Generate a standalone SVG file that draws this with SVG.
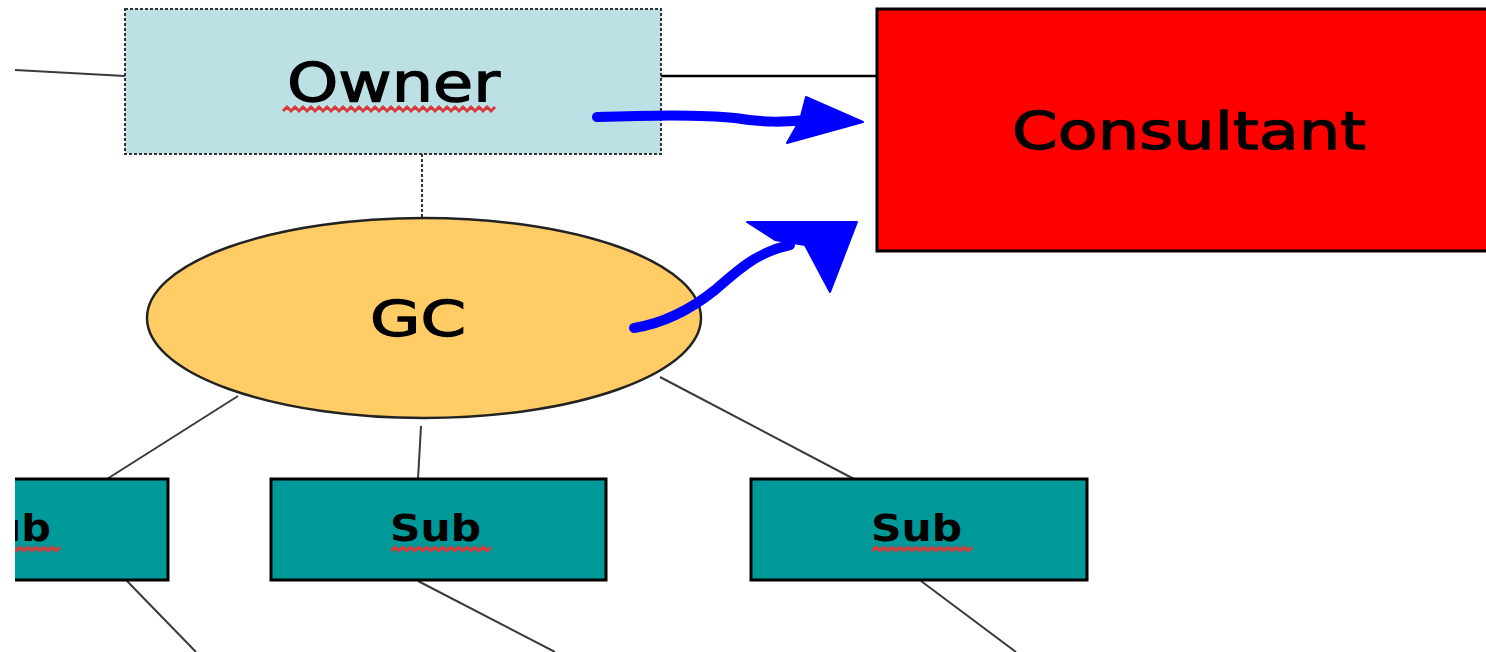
<svg xmlns="http://www.w3.org/2000/svg" width="1486" height="652" viewBox="0 0 1486 652">
  <defs>
    <style>
      .lbl { font-family: "DejaVu Sans", Verdana, sans-serif; fill: #000; stroke: #000; stroke-width: 1.3; }
      .sub-lbl { font-family: "DejaVu Sans", Verdana, sans-serif; font-weight: bold; font-size: 38px; fill: #000; }
      .link { stroke: #3a3a3a; stroke-width: 2; fill: none; }
      .dotted { stroke: #333; stroke-width: 2; stroke-dasharray: 3 2; fill: none; }
      .sub-box { fill: #009999; stroke: #000; stroke-width: 3; }
      .squiggle { stroke: #d83a3a; stroke-width: 3; fill: none; }
      .pen { stroke: #0000ff; stroke-width: 10; fill: none; stroke-linecap: round; stroke-linejoin: round; }
      .pen-head { fill: #0000ff; stroke: #0000ff; stroke-width: 2; stroke-linejoin: round; }
    </style>
    <clipPath id="frame">
      <rect x="15" y="0" width="1471" height="652"/>
    </clipPath>
  </defs>

  <rect width="1486" height="652" fill="#fff"/>

  <g clip-path="url(#frame)">
    <!-- connectors -->
    <g id="connectors">
      <line class="link" x1="15" y1="70" x2="125" y2="76"/>
      <line x1="661" y1="76" x2="877" y2="76" stroke="#000" stroke-width="2.5"/>
      <line class="dotted" x1="422" y1="154" x2="422" y2="218"/>
      <line class="link" x1="238" y1="396" x2="107" y2="479"/>
      <line class="link" x1="421" y1="426" x2="418" y2="479"/>
      <line class="link" x1="660" y1="377" x2="854" y2="479"/>
      <line class="link" x1="127" y1="581" x2="196" y2="652"/>
      <line class="link" x1="418" y1="581" x2="555" y2="652"/>
      <line class="link" x1="921" y1="581" x2="1016" y2="652"/>
    </g>

    <!-- owner -->
    <g id="owner">
      <rect x="125" y="9" width="536" height="145" fill="#bce0e3"/>
      <rect class="dotted" x="125" y="9" width="536" height="145"/>
      <text class="lbl" x="287" y="101" font-size="54" textLength="213" lengthAdjust="spacingAndGlyphs">Owner</text>
      <path class="squiggle" d="M283,111 l4,-4 l4,4 l4,-4 l4,4 l4,-4 l4,4 l4,-4 l4,4 l4,-4 l4,4 l4,-4 l4,4 l4,-4 l4,4 l4,-4 l4,4 l4,-4 l4,4 l4,-4 l4,4 l4,-4 l4,4 l4,-4 l4,4 l4,-4 l4,4 l4,-4 l4,4 l4,-4 l4,4 l4,-4 l4,4 l4,-4 l4,4 l4,-4 l4,4 l4,-4 l4,4 l4,-4 l4,4 l4,-4 l4,4 l4,-4 l4,4 l4,-4 l4,4 l4,-4 l4,4 l4,-4 l4,4 l4,-4 l4,4 l4,-4"/>
    </g>

    <!-- consultant -->
    <g id="consultant">
      <rect x="877" y="9" width="620" height="242" fill="#ff0000" stroke="#000" stroke-width="3"/>
      <text class="lbl" x="1012" y="149" font-size="52" textLength="354" lengthAdjust="spacingAndGlyphs">Consultant</text>
    </g>

    <!-- general contractor -->
    <g id="gc">
      <ellipse cx="424" cy="318" rx="277" ry="100" fill="#ffcc66" stroke="#222" stroke-width="2.5"/>
      <text class="lbl" x="370" y="336" font-size="49" textLength="96" lengthAdjust="spacingAndGlyphs">GC</text>
    </g>

    <!-- subcontractors -->
    <g id="sub-left">
      <rect class="sub-box" x="-170" y="479" width="338" height="101"/>
      <text class="sub-lbl" x="-38" y="541" textLength="89" lengthAdjust="spacingAndGlyphs">Sub</text>
      <path class="squiggle" d="M-40,551 l4,-4 l4,4 l4,-4 l4,4 l4,-4 l4,4 l4,-4 l4,4 l4,-4 l4,4 l4,-4 l4,4 l4,-4 l4,4 l4,-4 l4,4 l4,-4 l4,4 l4,-4 l4,4 l4,-4 l4,4 l4,-4 l4,4 l4,-4"/>
    </g>
    <g id="sub-middle">
      <rect class="sub-box" x="271" y="479" width="335" height="101"/>
      <text class="sub-lbl" x="390" y="541" textLength="91" lengthAdjust="spacingAndGlyphs">Sub</text>
      <path class="squiggle" d="M391,551 l4,-4 l4,4 l4,-4 l4,4 l4,-4 l4,4 l4,-4 l4,4 l4,-4 l4,4 l4,-4 l4,4 l4,-4 l4,4 l4,-4 l4,4 l4,-4 l4,4 l4,-4 l4,4 l4,-4 l4,4 l4,-4 l4,4 l4,-4"/>
    </g>
    <g id="sub-right">
      <rect class="sub-box" x="751" y="479" width="336" height="101"/>
      <text class="sub-lbl" x="871" y="541" textLength="91" lengthAdjust="spacingAndGlyphs">Sub</text>
      <path class="squiggle" d="M872,551 l4,-4 l4,4 l4,-4 l4,4 l4,-4 l4,4 l4,-4 l4,4 l4,-4 l4,4 l4,-4 l4,4 l4,-4 l4,4 l4,-4 l4,4 l4,-4 l4,4 l4,-4 l4,4 l4,-4 l4,4 l4,-4 l4,4 l4,-4"/>
    </g>

    <!-- hand-drawn pen arrows -->
    <g id="pen-arrows">
      <path class="pen" d="M597,117 C650,115 700,114 735,118 C765,123 785,122 805,120"/>
      <path class="pen-head" d="M806,97 L863,122 L787,143 L800,120 Z"/>
      <path class="pen" d="M634,328 C665,323 690,310 715,290 C740,268 758,252 790,245"/>
      <path class="pen-head" d="M747,222 L857,222 L830,292 L805,245 L775,240 Z"/>
    </g>
  </g>
</svg>
